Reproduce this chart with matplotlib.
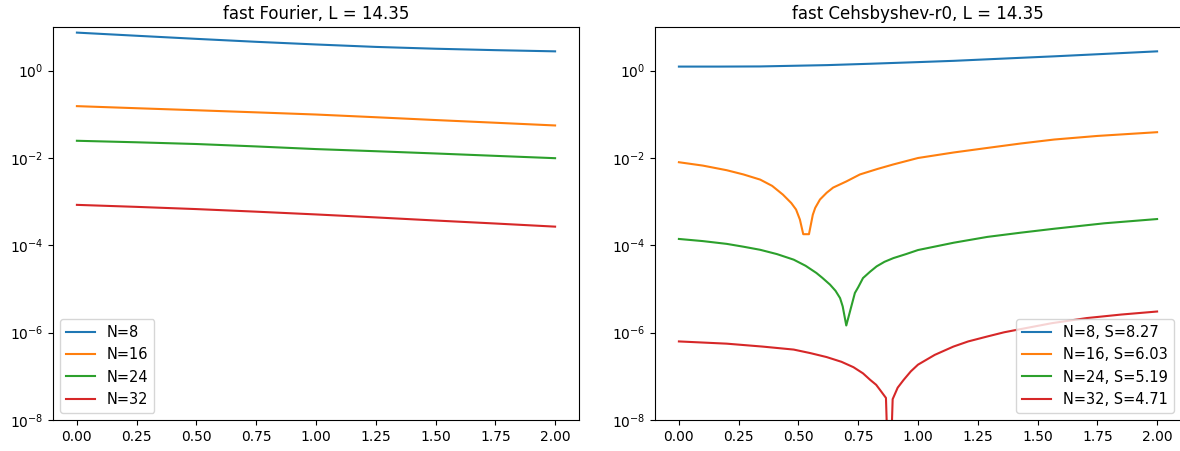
import matplotlib
matplotlib.use("Agg")
import matplotlib.pyplot as plt
from matplotlib.ticker import NullLocator

# ---- data ----
fourier_x = [0.0, 0.25, 0.5, 0.75, 1.0, 1.25, 1.5, 1.75, 2.0]
fourier_n8 = [7.44, 6.3, 5.35, 4.58, 3.98, 3.5, 3.18, 2.95, 2.77]
fourier_n16 = [0.154, 0.138, 0.124, 0.111, 0.099, 0.0858, 0.074, 0.0642, 0.0556]
fourier_n24 = [0.0248, 0.0229, 0.0209, 0.0184, 0.0160, 0.0143, 0.0127, 0.0112, 0.0099]
fourier_n32 = [8.45e-4, 7.6e-4, 6.76e-4, 5.9e-4, 5.1e-4, 4.36e-4, 3.7e-4, 3.16e-4, 2.68e-4]
fourier_labels = ["N=8", "N=16", "N=24", "N=32"]

cheb_n8_x = [0.0, 0.17, 0.34, 0.62, 0.8, 1.0, 1.15, 1.29, 1.43, 1.57, 1.78, 2.0]
cheb_n8 = [1.24, 1.24, 1.25, 1.34, 1.44, 1.57, 1.68, 1.82, 1.97, 2.13, 2.42, 2.77]

cheb_n16_x = [0.0, 0.1, 0.2, 0.27, 0.34, 0.39, 0.435, 0.47, 0.49, 0.506, 0.52, 0.544,
              0.56, 0.57, 0.59, 0.618, 0.645, 0.70, 0.757, 0.83, 0.896, 1.0, 1.15,
              1.29, 1.43, 1.57, 1.75, 2.0]
cheb_n16 = [8.0e-3, 6.7e-3, 5.25e-3, 4.2e-3, 3.2e-3, 2.3e-3, 1.45e-3, 9.3e-4, 6.6e-4,
            3.9e-4, 1.8e-4, 1.8e-4, 5.0e-4, 7.2e-4, 1.12e-3, 1.6e-3, 2.1e-3, 2.9e-3,
            4.2e-3, 5.6e-3, 7.1e-3, 1.0e-2, 1.34e-2, 1.7e-2, 2.15e-2, 2.65e-2, 3.2e-2, 3.9e-2]

cheb_n24_x = [0.0, 0.1, 0.2, 0.27, 0.34, 0.41, 0.48, 0.53, 0.575, 0.60, 0.632, 0.655,
              0.674, 0.685, 0.70, 0.736, 0.75, 0.77, 0.80, 0.827, 0.86, 0.897, 0.95,
              1.0, 1.15, 1.29, 1.43, 1.57, 1.78, 2.0]
cheb_n24 = [1.40e-4, 1.25e-4, 1.08e-4, 9.3e-5, 7.9e-5, 6.3e-5, 4.7e-5, 3.4e-5, 2.33e-5,
            1.8e-5, 1.26e-5, 9.1e-6, 6.2e-6, 4.0e-6, 1.46e-6, 8.1e-6, 1.1e-5, 1.78e-5,
            2.5e-5, 3.3e-5, 4.2e-5, 5.1e-5, 6.3e-5, 7.8e-5, 1.15e-4, 1.56e-4, 1.95e-4,
            2.4e-4, 3.2e-4, 4.0e-4]

cheb_n32_x = [0.0, 0.2, 0.35, 0.48, 0.55, 0.618, 0.68, 0.73, 0.77, 0.80, 0.825, 0.841,
              0.866, 0.88, 0.894, 0.915, 0.94, 0.97, 1.0, 1.07, 1.148, 1.21, 1.287, 1.36,
              1.427, 1.56, 1.706, 1.85, 2.0]
cheb_n32 = [6.3e-7, 5.6e-7, 4.8e-7, 4.1e-7, 3.4e-7, 2.76e-7, 2.15e-7, 1.62e-7, 1.17e-7,
            8.3e-8, 6.4e-8, 4.9e-8, 3.2e-8, 1e-10, 3.0e-8, 5.5e-8, 8.3e-8, 1.3e-7, 1.85e-7,
            3.1e-7, 4.8e-7, 6.3e-7, 8.1e-7, 1.02e-6, 1.2e-6, 1.65e-6, 2.16e-6, 2.6e-6, 3.05e-6]
cheb_labels = ["N=8, S=8.27", "N=16, S=6.03", "N=24, S=5.19", "N=32, S=4.71"]

titles = ["fast Fourier, L = 14.35", "fast Cehsbyshev-r0, L = 14.35"]
xticks = [0.0, 0.25, 0.5, 0.75, 1.0, 1.25, 1.5, 1.75, 2.0]
yticks = [1e-8, 1e-6, 1e-4, 1e-2, 1e0]

W, H = 1180, 451
fig = plt.figure(figsize=(W / 100, H / 100), dpi=100)
ax1 = fig.add_axes([53 / W, 1 - 420 / H, 526 / W, 393 / H])
ax2 = fig.add_axes([655 / W, 1 - 420 / H, 526 / W, 393 / H])

for y, lab in zip([fourier_n8, fourier_n16, fourier_n24, fourier_n32], fourier_labels):
    ax1.plot(fourier_x, y, label=lab)

for xs, y, lab in zip([cheb_n8_x, cheb_n16_x, cheb_n24_x, cheb_n32_x],
                      [cheb_n8, cheb_n16, cheb_n24, cheb_n32], cheb_labels):
    ax2.plot(xs, y, label=lab)

for ax, t in zip([ax1, ax2], titles):
    ax.set_yscale("log")
    ax.set_ylim(1e-8, 10)
    ax.set_xlim(-0.1, 2.1)
    ax.set_xticks(xticks)
    ax.set_yticks(yticks)
    ax.yaxis.set_minor_locator(NullLocator())
    ax.set_title(t, fontsize=12)

ax1.legend(loc="lower left", fontsize=10.5)
ax2.legend(loc="lower right", fontsize=10.5)

fig.savefig("out.png", dpi=100)
